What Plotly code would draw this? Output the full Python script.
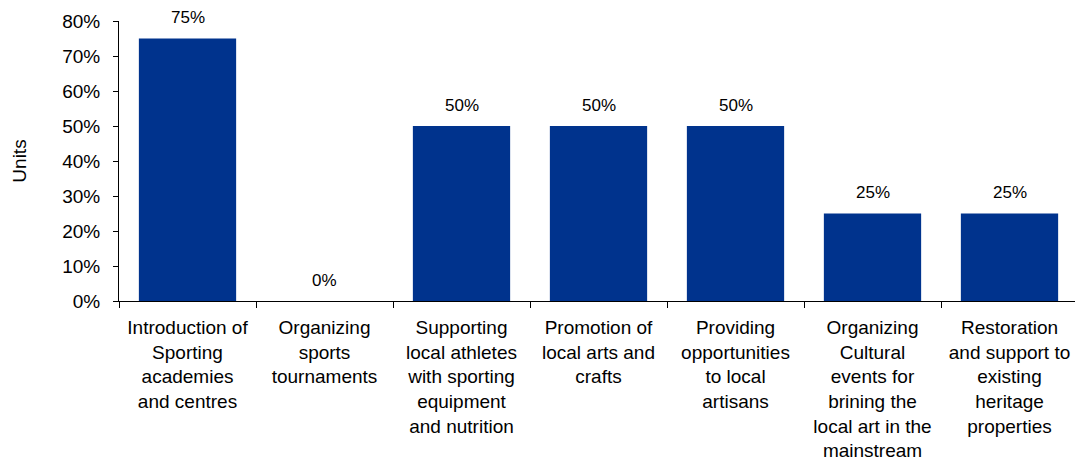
"""Share of units by initiative - bar chart."""

import plotly.graph_objects as go

categories = [
    "Introduction of<br>Sporting<br>academies<br>and centres",
    "Organizing<br>sports<br>tournaments",
    "Supporting<br>local athletes<br>with sporting<br>equipment<br>and nutrition",
    "Promotion of<br>local arts and<br>crafts",
    "Providing<br>opportunities<br>to local<br>artisans",
    "Organizing<br>Cultural<br>events for<br>brining the<br>local art in the<br>mainstream",
    "Restoration<br>and support to<br>existing<br>heritage<br>properties",
]
values = [0.75, 0.0, 0.50, 0.50, 0.50, 0.25, 0.25]
y_ticks = [0, 0.1, 0.2, 0.3, 0.4, 0.5, 0.6, 0.7, 0.8]

bar_color = '#00338D'
font_family = 'Liberation Sans, Arial, sans-serif'

fig = go.Figure()
fig.add_trace(go.Bar(
    x=categories,
    y=values,
    marker_color=bar_color,
    marker_line_width=0,
    showlegend=False,
    hoverinfo='skip'
))

# value labels above each bar
for cat, val in zip(categories, values):
    fig.add_annotation(
        x=cat, y=val,
        text=f"{val:.0%}",
        showarrow=False,
        yanchor='middle',
        yshift=21,
        font=dict(size=17, color='#000000', family=font_family)
    )

fig.update_layout(
    width=1083,
    height=458,
    margin=dict(l=111, r=13, t=13, b=165, autoexpand=False),
    plot_bgcolor='white',
    paper_bgcolor='white',
    bargap=0.29,
    font=dict(family=font_family, size=19, color='#000000'),
    xaxis=dict(
        automargin=False,
        showline=True,
        linecolor='#000000',
        linewidth=1,
        ticks='outside',
        tickson='boundaries',
        ticklen=6,
        tickcolor='#000000',
        tickfont=dict(size=19),
        ticklabelstandoff=9,
        showgrid=False,
        zeroline=False
    ),
    yaxis=dict(
        automargin=False,
        range=[0, 0.8],
        tickvals=y_ticks,
        tickformat='.0%',
        showline=True,
        linecolor='#000000',
        linewidth=1,
        ticks='outside',
        ticklen=5,
        tickcolor='#000000',
        tickfont=dict(size=19),
        ticklabelstandoff=9,
        showgrid=False,
        zeroline=False,
        title=dict(text='Units', font=dict(size=19), standoff=30)
    )
)

fig.write_html("out.html")
